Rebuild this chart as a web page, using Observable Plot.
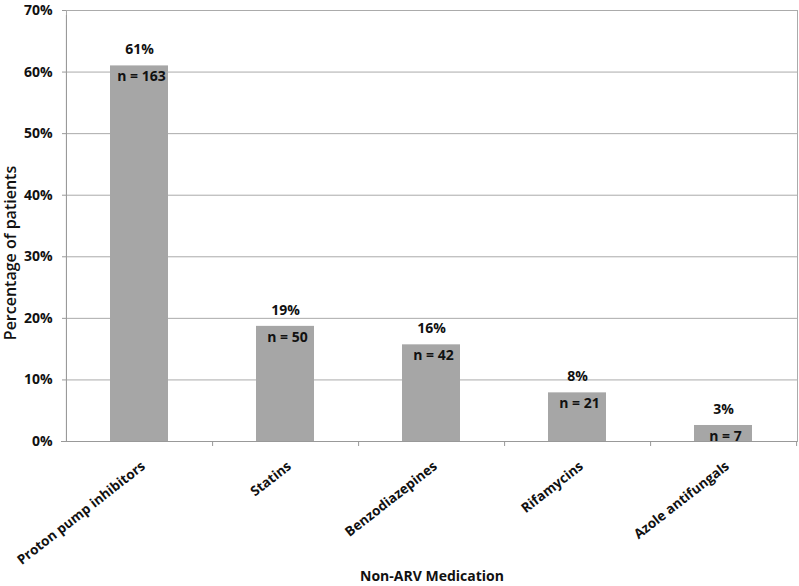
<!DOCTYPE html>
<html>
<head>
<meta charset="utf-8">
<script src="https://cdn.jsdelivr.net/npm/d3@7"></script>
<script src="https://cdn.jsdelivr.net/npm/@observablehq/plot@0.6"></script>
<style>
  html, body { margin: 0; padding: 0; background: #fff; }
  #chart svg { display: block; }
</style>
</head>
<body>
<div id="chart"></div>
<script>
const categories = ["Proton pump inhibitors", "Statins", "Benzodiazepines", "Rifamycins", "Azole antifungals"];
const percents = [61.0, 18.7, 15.7, 7.9, 2.6];
const pctLabels = ["61%", "19%", "16%", "8%", "3%"];
const counts = [163, 50, 42, 21, 7];
const yTicks = [0, 10, 20, 30, 40, 50, 60, 70];
const xTitle = "Non-ARV Medication";
const yTitle = "Percentage of patients";

const data = categories.map((c, i) => ({
  category: c, value: percents[i], pct: pctLabels[i], n: "n = " + counts[i]
}));

const W = 799, H = 586;
const mL = 66, mR = 2, mT = 10, mB = 145;
const step = (W - mL - mR) / categories.length;
const FONT = "'Open Sans', Lato, sans-serif";
const INK = "#111";

const chart = Plot.plot({
  width: W,
  height: H,
  marginLeft: mL,
  marginRight: mR,
  marginTop: mT,
  marginBottom: mB,
  style: { fontFamily: FONT, background: "#fff", overflow: "visible" },
  x: { domain: categories, paddingInner: 0.6, paddingOuter: 0.3, align: 0.5, axis: null },
  y: { domain: [0, 70] },
  marks: [
    Plot.gridY(yTicks, { stroke: "#ababab", strokeOpacity: 1, strokeWidth: 1 }),
    Plot.frame({ stroke: "#ababab", strokeWidth: 1 }),
    Plot.barY(data, { x: "category", y: "value", fill: "#a6a6a6" }),
    Plot.ruleY([0], { stroke: "#999", insetLeft: -5 }),
    Plot.ruleX(categories, { x: d => d, dx: step / 2, y1: 0, y2: 0, insetBottom: -5, stroke: "#999" }),
    Plot.ruleX(categories.slice(0, 1), { x: d => d, dx: -step / 2, y1: 0, y2: 70, insetBottom: -5, stroke: "#999" }),
    Plot.axisY(yTicks, {
      tickFormat: d => d + "%",
      tickSize: 4,
      tickPadding: 10,
      stroke: "#999",
      fontSize: 14,
      fontWeight: "bold",
      fill: INK,
      label: null
    }),
    // rotated category labels
    Plot.text(categories, {
      x: d => d, frameAnchor: "bottom", dx: 4, dy: 23,
      rotate: -38, textAnchor: "end", lineAnchor: "middle",
      fontSize: 13.5, fontWeight: "bold", fill: INK
    }),
    // axis titles
    Plot.text([xTitle], {
      frameAnchor: "bottom", dy: 135, textAnchor: "middle", lineAnchor: "middle",
      fontSize: 14, fontWeight: "bold", fill: INK
    }),
    Plot.text([yTitle], {
      frameAnchor: "left", dx: -56, dy: 27, rotate: -90,
      textAnchor: "middle", lineAnchor: "middle",
      fontSize: 16, fontWeight: 600, fill: INK
    }),
    // value labels
    Plot.text(data, { x: "category", y: "value", text: "pct", dy: -16, fontSize: 14, fontWeight: "bold", fill: INK }),
    Plot.text(data, { x: "category", y: "value", text: "n", dy: 11, dx: 2, fontSize: 14, fontWeight: "bold", fill: INK })
  ]
});

document.getElementById("chart").appendChild(chart);
</script>
</body>
</html>
